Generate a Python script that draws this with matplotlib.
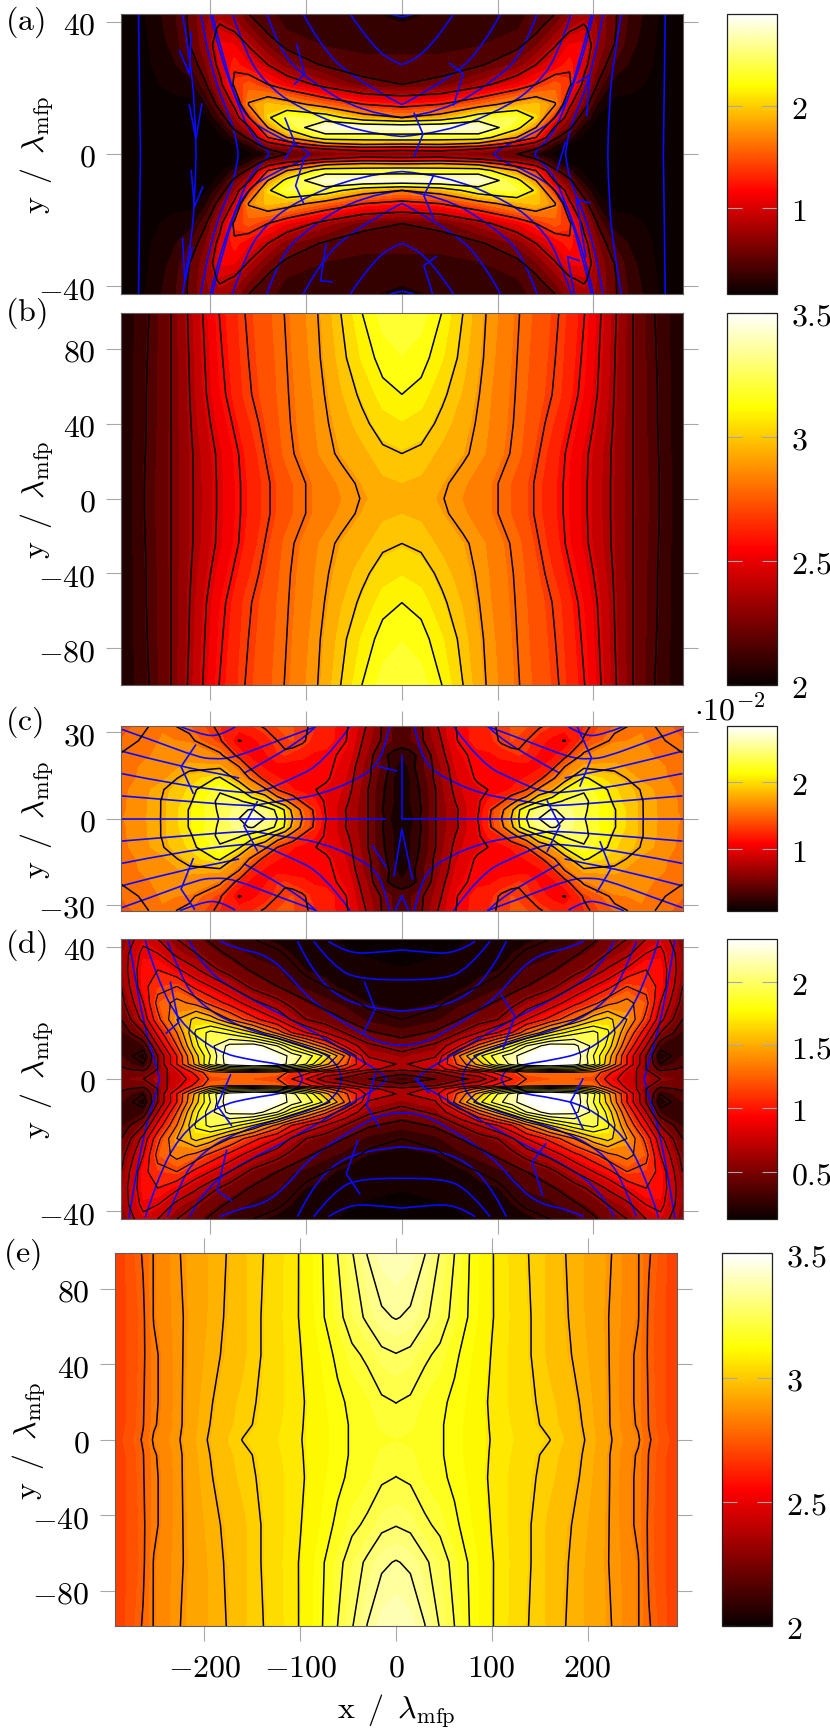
import numpy as np
import matplotlib
matplotlib.use('Agg')
import matplotlib.pyplot as plt
from matplotlib.cm import ScalarMappable
from matplotlib.colors import Normalize
from matplotlib.patches import PathPatch
from matplotlib.path import Path

plt.rcParams['mathtext.fontset'] = 'cm'
plt.rcParams['font.family'] = ['DejaVu Serif']

# all grids are one quadrant (x>=0, y>=0), rows go up in y, mirrored when drawn
a_x = [0, 40, 80, 120, 140, 160, 175, 190, 205, 220, 240, 265, 293]
a_y = [0, 1.5, 3, 5, 8, 11, 15, 21, 27, 33, 38, 42.3]
a_z = [
    [.65, .65, .60, .50, .25, .12, .08, .07, .05, .05, .04, .08, .05],
    [1.0, 1.05, .90, .60, .50, .18, .10, .07, .05, .05, .04, .08, .05],
    [1.7, 1.75, 1.6, 1.05, .75, .30, .15, .08, .05, .05, .04, .09, .05],
    [2.35, 2.3, 2.3, 1.7, 1.3, .55, .30, .12, .06, .06, .05, .10, .05],
    [2.8, 2.85, 2.85, 2.2, 1.7, .85, .55, .20, .08, .07, .06, .10, .05],
    [1.7, 1.85, 2.3, 2.4, 2.05, 1.27, .72, .38, .12, .09, .08, .11, .05],
    [1.2, 1.3, 1.55, 1.85, 1.95, 1.72, .95, .60, .25, .12, .12, .12, .05],
    [.5, .55, .8, 1.1, 1.3, 1.5, 1.35, .82, .48, .22, .18, .13, .05],
    [.42, .42, .47, .65, .9, 1.1, 1.27, 1.0, .62, .40, .24, .14, .05],
    [.36, .36, .38, .45, .6, .88, 1.1, 1.12, .70, .52, .30, .15, .05],
    [.30, .32, .34, .38, .45, .65, .85, .95, .72, .54, .33, .16, .05],
    [.22, .30, .32, .35, .42, .50, .70, .78, .72, .54, .35, .17, .05],
]
a_levels = [.5, .9, 1.3, 1.7, 2.1, 2.5]

b_x = [0, 20, 42, 64, 88, 123, 164, 191, 208, 224, 241, 264, 293]
b_y = [0, 8, 24, 40, 55.6, 75, 100]
b_z = [
    [2.94, 2.93, 2.90, 2.855, 2.82, 2.73, 2.59, 2.475, 2.395, 2.33, 2.246, 2.16, 2.03],
    [2.96, 2.95, 2.91, 2.865, 2.82, 2.73, 2.59, 2.475, 2.395, 2.33, 2.246, 2.16, 2.03],
    [3.005, 2.99, 2.945, 2.91, 2.855, 2.76, 2.60, 2.48, 2.40, 2.33, 2.246, 2.155, 2.03],
    [3.06, 3.04, 2.985, 2.93, 2.865, 2.77, 2.63, 2.51, 2.42, 2.335, 2.246, 2.15, 2.03],
    [3.113, 3.09, 3.02, 2.954, 2.872, 2.775, 2.66, 2.54, 2.44, 2.34, 2.246, 2.15, 2.03],
    [3.165, 3.14, 3.07, 2.98, 2.885, 2.78, 2.67, 2.555, 2.45, 2.345, 2.246, 2.145, 2.03],
    [3.22, 3.195, 3.113, 3.005, 2.896, 2.788, 2.68, 2.571, 2.463, 2.355, 2.246, 2.138, 2.03],
]
b_levels = [2.138, 2.246, 2.355, 2.463, 2.571, 2.68, 2.788, 2.896, 3.005, 3.113]

c_x = [0, 8, 20, 36, 58, 79, 92, 104, 114, 122, 130, 143, 157, 170, 190, 222, 250, 293]
c_y = [0, 3, 6, 10, 14, 18, 22, 27, 32]
c_z = [
    [.09, .15, .32, .56, .8, 1.05, 1.3, 1.55, 1.8, 2.05, 2.3, 2.55, 2.78, 2.55, 2.31, 2.06, 1.81, 1.6],
    [.1, .18, .3, .56, .79, 1.02, 1.28, 1.5, 1.72, 2.02, 2.25, 2.45, 2.57, 2.5, 2.33, 2.06, 1.81, 1.58],
    [.12, .2, .31, .56, .83, 1.02, 1.17, 1.27, 1.45, 1.6, 1.72, 2.03, 2.2, 2.33, 2.35, 2.02, 1.81, 1.58],
    [.13, .2, .32, .56, .88, 1.0, 1.06, 1.1, 1.15, 1.2, 1.3, 1.6, 1.75, 2.08, 2.28, 1.98, 1.79, 1.57],
    [.14, .2, .35, .6, .9, 1.08, 1.08, 1.08, 1.1, 1.12, 1.15, 1.22, 1.52, 1.68, 2.08, 1.88, 1.7, 1.56],
    [.15, .22, .4, .6, .95, 1.1, 1.1, 1.07, 1.06, 1.07, 1.08, 1.12, 1.22, 1.55, 1.75, 1.75, 1.68, 1.56],
    [.22, .24, .35, .66, 1.0, 1.1, 1.12, 1.18, 1.22, 1.26, 1.25, 1.12, 1.1, 1.22, 1.6, 1.68, 1.63, 1.56],
    [.38, .42, .52, .72, 1.05, 1.2, 1.22, 1.33, 1.38, 1.36, 1.3, 1.2, 1.1, 1.04, 1.32, 1.6, 1.62, 1.5],
    [.38, .42, .53, .78, 1.07, 1.2, 1.27, 1.33, 1.38, 1.4, 1.38, 1.32, 1.25, 1.2, 1.25, 1.5, 1.6, 1.45],
]
c_levels = [.3, .55, .8, 1.05, 1.3, 1.55, 1.8, 2.05, 2.3, 2.55]

d_x = [0, 35, 60, 80, 100, 115, 130, 155, 180, 200, 215, 235, 255, 270, 293]
d_y = [0, 2, 3, 4.5, 7, 10, 14, 18, 23, 28, 33, 38, 42.3]
d_z = [
    [.28, .4, .5, .6, .85, 1.0, 1.15, 1.2, 1.2, 1.18, .95, .75, .65, .55, .5],
    [.45, .55, .75, .85, 1.05, 1.1, 1.25, 1.3, 1.3, 1.25, 1.05, .8, .6, .45, .45],
    [.6, .75, 1.0, 1.2, 1.45, 1.6, 1.75, 1.8, 1.75, 1.5, 1.2, .85, .55, .35, .42],
    [.68, .8, 1.2, 1.5, 1.9, 2.1, 2.35, 2.4, 2.3, 1.95, 1.5, 1.0, .55, .25, .38],
    [.6, .68, 1.3, 1.7, 2.0, 2.15, 2.3, 2.4, 2.35, 1.9, 1.55, 1.0, .55, .18, .32],
    [.48, .58, .85, 1.2, 1.5, 1.75, 2.05, 2.3, 2.25, 2.0, 1.7, 1.15, .7, .3, .3],
    [.35, .42, .55, .7, .85, 1.0, 1.25, 1.6, 1.85, 1.95, 1.78, 1.3, .9, .55, .3],
    [.25, .3, .4, .47, .55, .68, .85, 1.05, 1.3, 1.55, 1.65, 1.45, 1.1, .75, .4],
    [.2, .22, .3, .35, .42, .5, .6, .75, .95, 1.1, 1.25, 1.35, 1.2, .85, .5],
    [.15, .17, .2, .25, .3, .33, .4, .5, .7, .85, .95, 1.15, 1.1, .95, .55],
    [.13, .14, .17, .2, .22, .28, .33, .38, .48, .6, .72, .88, 1.0, .95, .6],
    [.1, .12, .13, .15, .2, .22, .27, .3, .38, .45, .55, .65, .85, .9, .6],
    [.08, .1, .12, .14, .17, .18, .2, .25, .3, .38, .45, .55, .7, .8, .55],
]
d_levels = [.25, .4, .55, .7, .85, 1, 1.15, 1.3, 1.45, 1.6, 1.75, 1.9, 2.05, 2.2]

e_x = [0, 15, 30, 46, 61, 78, 100, 137, 160, 180, 200, 226, 253, 264, 293]
e_y = [0, 8, 20, 45, 65, 100]
e_z = [
    [3.18, 3.176, 3.165, 3.15, 3.13, 3.105, 3.08, 3.04, 3.02, 2.985, 2.95, 2.89, 2.835, 2.77, 2.69],
    [3.19, 3.185, 3.17, 3.15, 3.13, 3.107, 3.078, 3.035, 3.005, 2.98, 2.945, 2.885, 2.82, 2.762, 2.68],
    [3.21, 3.20, 3.175, 3.155, 3.135, 3.11, 3.075, 3.03, 3.00, 2.975, 2.94, 2.885, 2.815, 2.76, 2.68],
    [3.27, 3.258, 3.22, 3.195, 3.155, 3.12, 3.08, 3.025, 2.985, 2.96, 2.93, 2.885, 2.815, 2.755, 2.68],
    [3.34, 3.326, 3.285, 3.24, 3.19, 3.135, 3.085, 3.025, 2.985, 2.955, 2.925, 2.885, 2.83, 2.755, 2.68],
    [3.40, 3.385, 3.34, 3.27, 3.21, 3.14, 3.085, 3.02, 2.985, 2.95, 2.925, 2.89, 2.83, 2.77, 2.68],
]
e_levels = [2.764, 2.827, 2.891, 2.955, 3.018, 3.082, 3.145, 3.209, 3.273, 3.336]

# blue stream lines, one quadrant each, mirrored when drawn
a_lines = [
    [(275, 42.3), (274, 20), (273, 0)],
    [(229, 42.3), (222, 30), (216, 15), (215, 0)],
    [(210, 42.3), (200, 25.7), (179, 10.6), (172, 3.5), (171, 0)],
    [(200, 42.3), (190, 29.7), (167, 11.6), (155, 5), (139, .8), (139, 0)],
    [(198, 42.3), (185, 27), (167, 11.6), (130, 5), (106, 2.5), (96, 0)],
    [(177, 42.3), (162, 29.7), (144, 22), (113, 14.6), (44, 6.3), (0, 5.3)],
    [(141, 42.3), (127, 30.7), (99, 22.7), (43, 12.6), (0, 11)],
    [(103, 42.3), (89, 34.7), (57, 23.7), (0, 14.9)],
    [(54, 42.3), (30, 32), (5, 27.3), (0, 27)],
    [(12, 42.3), (5, 41.6), (0, 41.5)],
]
a_barbs = [
    [(-232, 31.2), (-222, 24.2), (-220, 36.8)],
    [(-222, 14.8), (-215, 4.5), (-209, 15.1)],
    [(-220, -5), (-216.7, -16), (-208, -10)],
    [(-229, -25.5), (-226.7, -38.8), (-219, -28.2)],
    [(-110, 33.2), (-101.7, 24.2), (-112, 21.1)],
    [(-122, 10.8), (-112, 3.5), (-122, -1.5)],
    [(-101.7, -1), (-111, -9.6), (-102.8, -14.8)],
    [(-79, -27.2), (-85, -38.3), (-73, -38.6)],
    [(12.8, 12.3), (22, 6), (12.8, -.7)],
    [(33, -6.5), (23, -12.6), (33, -19.4)],
    [(36, -31), (23, -33.7), (32, -42.3)],
    [(50, 27.4), (64, 24.2), (54, 14.8)],
    [(162, -5), (170.6, 3.5)],
    [(183, 21.6), (196, 23.9), (193, 11.6)],
    [(196, -14.8), (182, -13.6), (192, -31)],
    [(185, -32.2), (173, -31), (180, -42.3)],
]

c_lines = [
    [(293, 7.85), (231, 6.1), (155, 4.2), (148, 5), (113, 6.7), (85, 8.4), (50, 13), (26, 18.2), (16, 27), (13, 32)],
    [(293, 15.6), (237, 11.9), (172, 9), (148, 9), (120, 13), (82, 19), (54, 32)],
    [(293, 23.4), (234, 18.2), (179, 14.8), (170, 14)],
    [(165, 15.7), (141, 20), (99, 28.6), (90, 32)],
    [(293, 31), (259, 27), (214, 21.4), (197, 20.6), (176, 21), (130, 27), (89, 32)],
    [(232, 32), (209, 29), (190, 28.6), (174, 31.8)],
]
c_barbs = [
    [(-293, 0), (-18, 0)],
    [(0, 0), (293, 0)],
    [(0, 21.7), (0, 0)],
    [(-215.6, 25.4), (-230.6, 18), (-218, 8.8)],
    [(-151, 5.8), (-165, -2.5), (-151, -11.2)],
    [(-218, -14), (-230.6, -24.5), (-216.7, -31.4)],
    [(-16.7, -16.7), (-30.6, -9.5)],
    [(-5.6, 16.5), (-24, 18)],
    [(-8.3, -19.9), (0, -3.7), (11, -21)],
    [(-7, -32), (0, -26.8), (7, -32)],
    [(151.7, 6.1), (165, -2.5), (151.7, -11.4)],
    [(183, 31.9), (198, 21.1), (186, 11.3)],
    [(207, -8.1), (218, -17.6), (204, -25.4)],
]

d_lines = [
    [(285, 42), (273, 19.9), (256, 3.6), (253, 0)],
    [(268, 41.8), (256, 30.8), (233, 17.2), (193, 8.1), (155, 5.6), (130, 4.6), (110, 3.1), (104, .6), (104, 0)],
    [(245, 41.6), (233, 32.8), (216, 23.7), (172, 15.7), (85, 8.7), (68, 4.6), (63, .6), (63, 0)],
    [(222, 41.6), (207, 33.8), (176, 26.8), (106, 16.7), (43, 5.6), (19, 1.6), (16, 0)],
    [(190, 41.6), (172, 39.3), (144, 37.8), (120, 32.3), (96, 23.7), (43, 13.7), (16, 10.2), (0, 10.2)],
    [(109, 41.6), (96, 33.8), (68, 24.7), (30, 21.2), (0, 20.5)],
    [(92, 41.6), (71, 33.8), (43, 29.8), (0, 30)],
    [(76.5, 41.6), (57, 37.8), (23, 38.3), (0, 39)],
]
d_barbs = [
    [(-241.7, 29.2), (-233, 17.1), (-246, 13.9)],
    [(-39, 29.2), (-28, 21.1), (-40.6, 13.6)],
    [(104, 25.2), (118, 19.1), (105.6, 9)],
    [(-179, 1.2), (-193, -8), (-178, -14)],
    [(-28, 1.5), (-37, -8), (-24, -14.3)],
    [(189, 0), (176, -7), (189, -15)],
    [(-46, -18.6), (-58, -28.7), (-44, -34.7)],
    [(-183, -21.6), (-193, -33.7), (-178, -36.7)],
    [(150, -19.6), (136, -25.2), (147, -35.2)],
    [(14, 0), (28, -4)],
]

# name, grid, contour levels, colour range, bar ticks, y ticks, y limit, lines, barbs, pixel boxes
panels = [
    ('a', a_x, a_y, a_z, a_levels, .154, 2.91, [1, 2], [-40, 0, 40], 42.3, a_lines, a_barbs, (121.3, 15, 682.5, 295), (727, 777)),
    ('b', b_x, b_y, b_z, b_levels, 2, 3.5, [2, 2.5, 3, 3.5], [-80, -40, 0, 40, 80], 99.3, [], [], (121.3, 313.5, 682.5, 685.5), (727, 777)),
    ('c', c_x, c_y, c_z, c_levels, .088, 2.83, [1, 2], [-30, 0, 30], 32, c_lines, c_barbs, (121.3, 727.3, 682.5, 911.7), (727, 777)),
    ('d', d_x, d_y, d_z, d_levels, .126, 2.34, [.5, 1, 1.5, 2], [-40, 0, 40], 42.3, d_lines, d_barbs, (121.3, 940, 682.5, 1220), (727, 777)),
    ('e', e_x, e_y, e_z, e_levels, 2, 3.5, [2, 2.5, 3, 3.5], [-80, -40, 0, 40, 80], 98.9, [], [], (115.4, 1254.3, 676.6, 1627.3), (721.8, 771.8)),
]
x_ticks = [-200, -100, 0, 100, 200]

W, H = 830, 1731
FS = 23
GRAY = '#a8a8a8'
BLUE = '#0a0aff'
LABEL_Y = r'$\mathrm{y}\ \,/\ \,\lambda_{\mathrm{mfp}}$'
LABEL_X = r'$\mathrm{x}\ \,/\ \,\lambda_{\mathrm{mfp}}$'
fig = plt.figure(figsize=(W / 100, H / 100), dpi=100)


def box(l, t, r, b):
    return [l / W, 1 - b / H, (r - l) / W, (b - t) / H]


def smooth_line(ax, p):
    # typed points used as bezier controls, so the stream line is not a polygon
    verts = [p[0]]
    codes = [Path.MOVETO]
    for i in range(1, len(p) - 1):
        end = p[i + 1] if i == len(p) - 2 else (p[i] + p[i + 1]) / 2
        verts += [p[i], end]
        codes += [Path.CURVE3, Path.CURVE3]
    if len(p) == 2:
        verts.append(p[1])
        codes.append(Path.LINETO)
    ax.add_patch(PathPatch(Path(verts, codes), fill=False, edgecolor=BLUE, lw=1.2))


for name, qx, qy, qz, levels, vmin, vmax, bar_ticks, y_ticks, ylim, lines, barbs, pos, bar in panels:
    ax = fig.add_axes(box(*pos))
    qx = np.array(qx, float)
    qy = np.array(qy, float)
    qz = np.array(qz, float)
    xs = np.concatenate([-qx[:0:-1], qx])
    ys = np.concatenate([-qy[:0:-1], qy])
    zs = np.hstack([qz[:, :0:-1], qz])
    zs = np.vstack([zs[:0:-1], zs])

    norm = Normalize(vmin, vmax)
    fill = np.linspace(max(zs.min(), vmin), zs.max(), 24)
    ax.contourf(xs, ys, zs, levels=fill, cmap='hot', norm=norm, extend='both')
    ax.contour(xs, ys, zs, levels=levels, colors='k', linewidths=.85 if name == 'd' else 1.1)

    for line in lines:
        p = np.array(line, float)
        for sx in (1, -1):
            for sy in (1, -1):
                smooth_line(ax, p * [sx, sy])
    for line in barbs:
        p = np.array(line)
        ax.plot(p[:, 0], p[:, 1], color=BLUE, lw=1.2)

    ax.set_xlim(-293, 293)
    ax.set_ylim(-ylim, ylim)
    ax.set_yticks(y_ticks, [f'${v}$' for v in y_ticks])
    if name == 'e':
        ax.set_xticks(x_ticks, [f'${v}$' for v in x_ticks])
    else:
        ax.set_xticks(x_ticks, [])
    ax.tick_params(direction='out', length=10.5, width=.8, color=GRAY, top=True, right=True,
                   labelsize=FS, pad=8)
    for s in ax.spines.values():
        s.set_color('#606060')
        s.set_linewidth(.8)

    cax = fig.add_axes(box(bar[0], pos[1], bar[1], pos[3]))
    cb = fig.colorbar(ScalarMappable(norm=norm, cmap='hot'), cax=cax)
    cb.outline.set_edgecolor('#202020')
    cb.outline.set_linewidth(.9)
    cax.minorticks_off()
    cax.set_yticks(bar_ticks, [f'${v}$' for v in bar_ticks])
    cax.tick_params(direction='in', length=10.5, width=.8, color=GRAY, left=True, right=True,
                    labelleft=False, labelright=True, labelsize=FS, pad=10)

    mid = (pos[1] + pos[3]) / 2
    fig.text((29 if name == 'e' else 37) / W, 1 - mid / H, LABEL_Y,
             rotation=90, ha='center', va='center', fontsize=FS)

for name, px, py in [('a', 5, 22), ('b', 5, 313), ('c', 5, 722), ('d', 5, 945), ('e', 3, 1254)]:
    fig.text(px / W, 1 - py / H, rf'$\mathrm{{({name})}}$', ha='left', va='center', fontsize=FS)

fig.text(766 / W, 1 - 711 / H, r'$\cdot 10^{-2}$', ha='right', va='center', fontsize=FS)
fig.text(396 / W, 1 - 1711 / H, LABEL_X, ha='center', va='center', fontsize=FS)

fig.savefig('out.png', dpi=100)
